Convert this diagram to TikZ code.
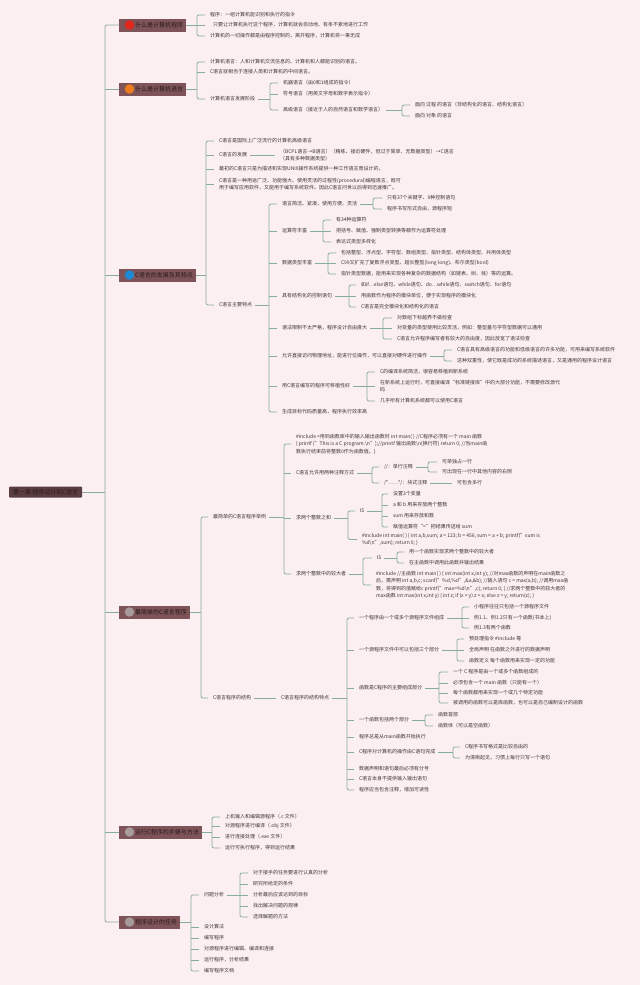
\documentclass[tikz,border=0pt]{standalone}
\usepackage{fontspec}
\setmainfont{Noto Sans CJK SC}
\definecolor{bg}{HTML}{FCEFF2}
\definecolor{ln}{HTML}{86AC9B}
\definecolor{mb}{HTML}{7E5458}
\definecolor{rb}{HTML}{5A3D41}
\definecolor{tx}{HTML}{3C3738}
\definecolor{mt}{HTML}{2A1A1C}
\definecolor{cred}{HTML}{E3261C}
\definecolor{corange}{HTML}{EE7C1E}
\definecolor{cblue}{HTML}{1F88D2}
\definecolor{cgray}{HTML}{A89B9C}
\tikzset{
 conn/.style={draw=ln, line width=0.75pt},
 txt/.style={anchor=west, inner sep=0.5pt, outer sep=2.5pt, text=tx, font=\fontsize{5}{7.5}\selectfont, align=left},
 mbox/.style={anchor=west, fill=mb, text=mt, font=\fontsize{6}{7}\selectfont, minimum height=13pt, inner xsep=3pt, inner ysep=0pt, outer sep=0pt},
 rbox/.style={anchor=west, fill=rb, text=mt, font=\fontsize{6}{7}\selectfont, minimum height=11pt, inner xsep=4pt, inner ysep=0pt, outer sep=0pt, rounded corners=1pt},
 dot/.style={circle, minimum size=9.5pt, inner sep=0pt, outer sep=0pt},
}
\newcommand\fan[5]{%
  \draw[conn] (#1.east) -- (#1.east -| #2);
  \draw[conn,rounded corners=2pt] ([xshift=-#5]#3.west) -- (#3.west -| #2) -- (#4.west -| #2) -- ([xshift=-#5]#4.west);
}
\newcommand\tk[3]{\draw[conn] (#2.west -| #1) -- ([xshift=-#3]#2.west);}
\newcommand\one[2]{\draw[conn] (#1.east) -- ([xshift=-2pt]#2.west);}
\begin{document}
\begin{tikzpicture}[x=1pt,y=-1pt]
\fill[bg] (0,0) rectangle (640,985);
\useasboundingbox (0,0) rectangle (640,985);

% root and main topics
\node[rbox] (root) at (9,492) {第一章 程序设计和C语言};
\coordinate (S) at (105,0);
\node[mbox] (m1) at (119,25) {\hspace{13pt}什么是计算机程序};
\node[mbox] (m2) at (119,89) {\hspace{13pt}什么是计算机语言};
\node[mbox] (m3) at (119,275) {\hspace{13pt}C语言的发展及其特点};
\node[mbox] (m4) at (119,612) {\hspace{13pt}最简单的C语言程序};
\node[mbox] (m5) at (119,832) {\hspace{13pt}运行C程序的步骤与方法};
\node[mbox] (m6) at (119,922) {\hspace{13pt}程序设计的任务};
\node[dot, fill=cred] (d1) at (129.5,25) {};
\node[dot, fill=corange] (d2) at (129.5,89) {};
\node[dot, fill=cblue] (d3) at (129.5,275) {};
\node[dot, fill=cgray] (d4) at (129.5,612) {};
\node[dot, fill=cgray] (d5) at (129.5,832) {};
\node[dot, fill=cgray] (d6) at (129.5,922) {};
\fan{root}{S}{m1}{m6}{0pt}
\tk{S}{m2}{0pt}\tk{S}{m3}{0pt}\tk{S}{m4}{0pt}\tk{S}{m5}{0pt}

% section 1
\coordinate (B1) at (197,0);
\node[txt] (a1) at (207,15) {程序：一组计算机能识别和执行的指令};
\node[txt] (a2) at (207,25) {\hspace{3pt}只要让计算机执行这个程序，计算机就会自动地、有条不紊地进行工作};
\node[txt] (a3) at (207,36) {计算机的一切操作都是由程序控制的，离开程序，计算机将一事无成};
\fan{m1}{B1}{a1}{a3}{2pt}\tk{B1}{a2}{2pt}

% section 2
\coordinate (B2) at (197,0);
\node[txt] (b1) at (207,62) {计算机语言：人和计算机交流信息的、计算机和人都能识别的语言。};
\node[txt] (b2) at (207,72) {C语言就相当于连接人类和计算机的中间语言。};
\node[txt] (b3) at (207,99) {计算机语言发展阶段};
\fan{m2}{B2}{b1}{b3}{2pt}\tk{B2}{b2}{2pt}
\coordinate (B3) at (270,0);
\node[txt] (b31) at (280,83) {机器语言（由0和1组成的指令）};
\node[txt] (b32) at (280,94) {符号语言（用英文字母和数字表示指令）};
\node[txt] (b33) at (280,110) {高级语言（接近于人的自然语言和数学语言）};
\fan{b3}{B3}{b31}{b33}{2pt}\tk{B3}{b32}{2pt}
\coordinate (B4) at (402,0);
\node[txt] (b331) at (412,105) {面向 过程 的语言（非结构化的语言、结构化语言）};
\node[txt] (b332) at (412,116) {面向 对象 的语言};
\fan{b33}{B4}{b331}{b332}{2pt}

% section 3
\coordinate (C) at (206,0);
\node[txt] (c1) at (216,141) {C语言是国际上广泛流行的计算机高级语言};
\node[txt] (c2) at (216,155) {C语言的发展};
\node[txt] (c2t) at (277,155) {（BCPL语言→B语言）（精练、接近硬件，但过于简单，无数据类型）→C语言\\（具有多种数据类型）};
\one{c2}{c2t}
\node[txt] (c3) at (216,169) {最初的C语言只是为描述和实现UNIX操作系统提供一种工作语言而设计的。};
\node[txt] (c4) at (216,184) {C语言是一种用途广泛、功能强大、使用灵活的过程性(procedural)编程语言，既可\\用于编写应用软件，又能用于编写系统软件。因此C语言问世以后得到迅速推广。};
\node[txt] (c5) at (216,305) {C语言主要特点};
\fan{m3}{C}{c1}{c5}{2pt}\tk{C}{c2}{2pt}\tk{C}{c3}{2pt}\tk{C}{c4}{2pt}

\coordinate (D) at (269,0);
\node[txt] (e1) at (279,204) {语言简洁、紧凑，使用方便、灵活};
\node[txt] (e2) at (279,231) {运算符丰富};
\node[txt] (e3) at (279,263) {数据类型丰富};
\node[txt] (e4) at (279,296) {具有结构化的控制语句};
\node[txt] (e5) at (279,328) {语法限制不太严格，程序设计自由度大};
\node[txt] (e6) at (279,356) {允许直接访问物理地址，能进行位操作，可以直接对硬件进行操作};
\node[txt] (e7) at (279,386) {用C语言编写的程序可移植性好};
\node[txt] (e8) at (279,412) {生成目标代码质量高，程序执行效率高};
\fan{c5}{D}{e1}{e8}{2pt}
\tk{D}{e2}{2pt}\tk{D}{e3}{2pt}\tk{D}{e4}{2pt}\tk{D}{e5}{2pt}\tk{D}{e6}{2pt}\tk{D}{e7}{2pt}

\coordinate (E1) at (373,0);
\node[txt] (e11) at (384,198) {只有37个关键字、9种控制语句};
\node[txt] (e12) at (384,209) {程序书写形式自由，源程序短};
\fan{e1}{E1}{e11}{e12}{2pt}
\coordinate (E2) at (323,0);
\node[txt] (e21) at (333,220) {有34种运算符};
\node[txt] (e22) at (333,231) {把括号、赋值、强制类型转换等都作为运算符处理};
\node[txt] (e23) at (333,242) {表达式类型多样化};
\fan{e2}{E2}{e21}{e23}{2pt}\tk{E2}{e22}{2pt}
\coordinate (E3) at (328,0);
\node[txt] (e31) at (338,253) {包括整型、浮点型、字符型、数组类型、指针类型、结构体类型、共用体类型};
\node[txt] (e32) at (338,263) {C99又扩充了复数浮点类型、超长整型(long long)、布尔类型(bool)};
\node[txt] (e33) at (338,274) {指针类型数据，能用来实现各种复杂的数据结构（如链表、树、栈）等的运算。};
\fan{e3}{E3}{e31}{e33}{2pt}\tk{E3}{e32}{2pt}
\coordinate (E4) at (349,0);
\node[txt] (e41) at (358,285) {如if…else语句、while语句、do…while语句、switch语句、for语句};
\node[txt] (e42) at (358,296) {用函数作为程序的模块单位，便于实现程序的模块化};
\node[txt] (e43) at (358,307) {C语言是完全模块化和结构化的语言};
\fan{e4}{E4}{e41}{e43}{2pt}\tk{E4}{e42}{2pt}
\coordinate (E5) at (383,0);
\node[txt] (e51) at (394,318) {对数组下标越界不做检查};
\node[txt] (e52) at (394,328) {对变量的类型使用比较灵活，例如：整型量与字符型数据可以通用};
\node[txt] (e53) at (394,339) {C语言允许程序编写者有较大的自由度，因此放宽了语法检查};
\fan{e5}{E5}{e51}{e53}{2pt}\tk{E5}{e52}{2pt}
\coordinate (E6) at (444,0);
\node[txt] (e61) at (454,350) {C语言具有高级语言的功能和低级语言的许多功能，可用来编写系统软件};
\node[txt] (e62) at (454,361) {这种双重性，使它既是成功的系统描述语言，又是通用的程序设计语言};
\fan{e6}{E6}{e61}{e62}{2pt}
\coordinate (E7) at (367,0);
\node[txt] (e71) at (377,372) {C的编译系统简洁，很容易移植到新系统};
\node[txt] (e72) at (377,386) {在新系统上运行时，可直接编译“标准链接库”中的大部分功能，不需要修改源代\\码};
\node[txt] (e73) at (377,401) {几乎所有计算机系统都可以使用C语言};
\fan{e7}{E7}{e71}{e73}{2pt}\tk{E7}{e72}{2pt}

% section 4
\coordinate (F) at (201,0);
\node[txt] (f1) at (210,517) {最简单的C语言程序举例};
\node[txt] (f2) at (210,698) {C语言程序的结构};
\fan{m4}{F}{f1}{f2}{2pt}

\coordinate (G) at (284,0);
\node[txt] (g1) at (293,444) {\#include <用到函数库中的输入输出函数时 int main( ) //C程序必须有一个 main 函数\\\{ printf ("This is a C program.\textbackslash n");//printf 输出函数\textbackslash n(换行符) return 0; //当main函\\数执行结束前将整数0作为函数值。\}};
\node[txt] (g2) at (293,473) {C语言允许用两种注释方式};
\node[txt] (g3) at (293,518) {求两个整数之和};
\node[txt] (g4) at (293,574) {求两个整数中的较大者};
\fan{f1}{G}{g1}{g4}{2pt}\tk{G}{g2}{2pt}\tk{G}{g3}{2pt}

\coordinate (H) at (372,0);
\node[txt] (h1) at (381,467) {//：单行注释};
\node[txt] (h2) at (381,483) {/*……*/：块式注释};
\fan{g2}{H}{h1}{h2}{2pt}
\coordinate (I) at (428,0);
\node[txt] (i1) at (439,462) {可单独占一行};
\node[txt] (i2) at (439,472) {可出现在一行中其他内容的右侧};
\fan{h1}{I}{i1}{i2}{2pt}
\node[txt] (h21) at (454,483) {可包含多行};
\one{h2}{h21}

\coordinate (J) at (348,0);
\node[txt] (j1) at (357,511) {IS};
\node[txt] (j2) at (359,539.5) {\#include int main( ) \{ int a,b,sum; a = 123; b = 456; sum = a + b; printf("sum is\\\%d\textbackslash n",sum); return 0; \}};
\fan{g3}{J}{j1}{j2}{2pt}
\coordinate (K) at (382,0);
\node[txt] (k1) at (390,494) {设置3个变量};
\node[txt] (k2) at (390,505) {a 和 b 用来存放两个整数};
\node[txt] (k3) at (390,516) {sum 用来存放和数};
\node[txt] (k4) at (390,527) {赋值运算符“=”把结果传送给 sum};
\fan{j1}{K}{k1}{k4}{2pt}\tk{K}{k2}{2pt}\tk{K}{k3}{2pt}

\coordinate (L) at (363,0);
\node[txt] (l1) at (374,558) {IS};
\node[txt] (l2) at (373,585) {\#include //主函数 int main( ) \{ int max(int x,int y); //对max函数的声明在main函数之\\后，需声明 int a,b,c; scanf("\%d,\%d",\&a,\&b); //输入语句 c = max(a,b); //调用max函\\数，将得到的值赋给c printf("max=\%d\textbackslash n",c); return 0; \} //求两个整数中的较大者的\\max函数 int max(int x,int y) \{ int z; if (x > y) z = x; else z = y; return(z); \}};
\fan{g4}{L}{l1}{l2}{2pt}
\coordinate (M) at (397,0);
\node[txt] (n1) at (406,552) {用一个函数实现求两个整数中的较大者};
\node[txt] (n2) at (406,563) {在主函数中调用此函数并输出结果};
\fan{l1}{M}{n1}{n2}{2pt}

\node[txt] (f2b) at (278,698) {C语言程序的结构特点};
\one{f2}{f2b}
\coordinate (P) at (347,0);
\node[txt] (p1) at (356,618) {一个程序由一个或多个源程序文件组成};
\node[txt] (p2) at (356,650) {一个源程序文件中可以包括三个部分};
\node[txt] (p3) at (356,688) {函数是C程序的主要组成部分};
\node[txt] (p4) at (356,720) {一个函数包括两个部分};
\node[txt] (p5) at (356,737) {程序总是从main函数开始执行};
\node[txt] (p6) at (356,752) {C程序对计算机的操作由C语句完成};
\node[txt] (p7) at (356,769) {数据声明和语句最后必须有分号};
\node[txt] (p8) at (356,779) {C语言本身不提供输入输出语句};
\node[txt] (p9) at (356,790) {程序应当包含注释，增加可读性};
\fan{f2b}{P}{p1}{p9}{2pt}
\tk{P}{p2}{2pt}\tk{P}{p3}{2pt}\tk{P}{p4}{2pt}\tk{P}{p5}{2pt}\tk{P}{p6}{2pt}\tk{P}{p7}{2pt}\tk{P}{p8}{2pt}

\coordinate (Q1) at (462,0);
\node[txt] (q11) at (471,607) {小程序往往只包括一个源程序文件};
\node[txt] (q12) at (471,618) {例1.1、例1.2只有一个函数(书本上)};
\node[txt] (q13) at (471,628) {例1.3有两个函数};
\fan{p1}{Q1}{q11}{q13}{2pt}\tk{Q1}{q12}{2pt}
\coordinate (Q2) at (457,0);
\node[txt] (q21) at (466,639) {预处理指令 \#include 等};
\node[txt] (q22) at (466,650) {全局声明 在函数之外进行的数据声明};
\node[txt] (q23) at (466,661) {函数定义 每个函数用来实现一定的功能};
\fan{p2}{Q2}{q21}{q23}{2pt}\tk{Q2}{q22}{2pt}
\coordinate (Q3) at (439,0);
\node[txt] (q31) at (450,672) {一个 C 程序是由一个或多个函数组成的};
\node[txt] (q32) at (450,683) {必须包含一个 main 函数（只能有一个）};
\node[txt] (q33) at (450,693) {每个函数都用来实现一个或几个特定功能};
\node[txt] (q34) at (450,703) {被调用的函数可以是库函数，也可以是自己编制设计的函数};
\fan{p3}{Q3}{q31}{q34}{2pt}\tk{Q3}{q32}{2pt}\tk{Q3}{q33}{2pt}
\coordinate (Q4) at (425,0);
\node[txt] (q41) at (435,715) {函数首部};
\node[txt] (q42) at (435,726) {函数体（可以是空函数）};
\fan{p4}{Q4}{q41}{q42}{2pt}
\coordinate (Q6) at (453,0);
\node[txt] (q61) at (462,747) {C程序书写格式是比较自由的};
\node[txt] (q62) at (462,758) {为清晰起见，习惯上每行只写一个语句};
\fan{p6}{Q6}{q61}{q62}{2pt}

% section 5
\coordinate (R) at (212,0);
\node[txt] (r1) at (222,817) {上机输入和编辑源程序（.c 文件）};
\node[txt] (r2) at (222,826) {对源程序进行编译（.obj 文件）};
\node[txt] (r3) at (222,837) {进行连接处理（.exe 文件）};
\node[txt] (r4) at (222,848) {运行可执行程序，得到运行结果};
\fan{m5}{R}{r1}{r4}{2pt}\tk{R}{r2}{2pt}\tk{R}{r3}{2pt}

% section 6
\coordinate (T) at (191,0);
\node[txt] (t1) at (201,895) {问题分析};
\node[txt] (t2) at (201,927) {设计算法};
\node[txt] (t3) at (201,938) {编写程序};
\node[txt] (t4) at (201,949) {对源程序进行编辑、编译和连接};
\node[txt] (t5) at (201,960) {运行程序，分析结果};
\node[txt] (t6) at (201,971) {编写程序文档};
\fan{m6}{T}{t1}{t6}{2pt}
\tk{T}{t2}{2pt}\tk{T}{t3}{2pt}\tk{T}{t4}{2pt}\tk{T}{t5}{2pt}
\coordinate (U) at (240,0);
\node[txt] (u1) at (250,873) {对于接手的任务要进行认真的分析};
\node[txt] (u2) at (250,884) {研究所给定的条件};
\node[txt] (u3) at (250,895) {分析最后应该达到的目标};
\node[txt] (u4) at (250,906) {找出解决问题的规律};
\node[txt] (u5) at (250,917) {选择解题的方法};
\fan{t1}{U}{u1}{u5}{2pt}\tk{U}{u2}{2pt}\tk{U}{u3}{2pt}\tk{U}{u4}{2pt}
\end{tikzpicture}
\end{document}
